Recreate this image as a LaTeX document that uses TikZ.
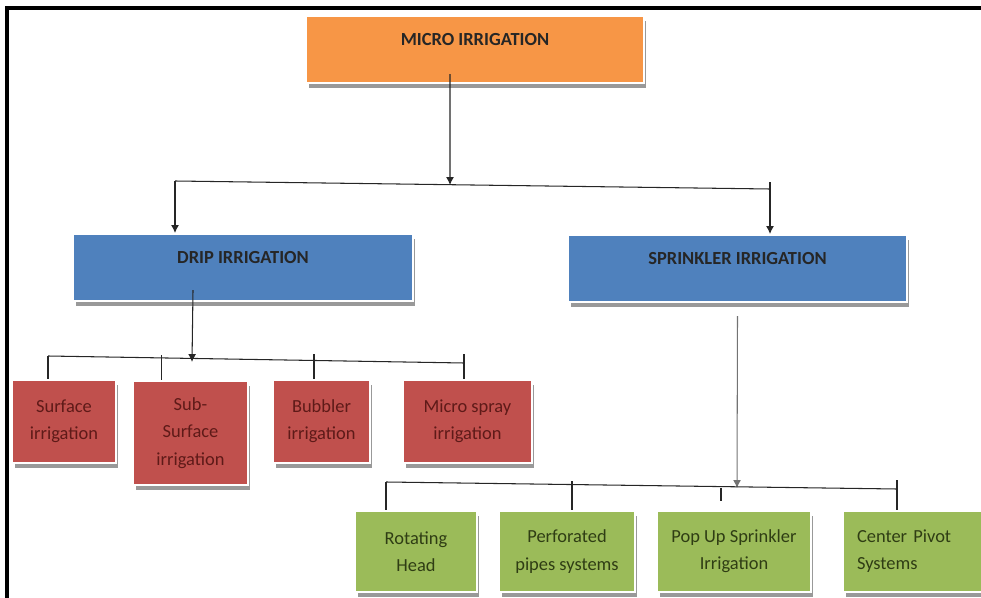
\documentclass[tikz,border=0pt]{standalone}
\usepackage{fontspec}
\setmainfont{Carlito}
\usepackage{tikz}
\usetikzlibrary{arrows.meta}
\usetikzlibrary{shadows}
\definecolor{microorange}{HTML}{F79646}
\definecolor{headblue}{HTML}{4F81BD}
\definecolor{dripred}{HTML}{C0504D}
\definecolor{sprinkgreen}{HTML}{9BBB59}
\definecolor{dripredtext}{HTML}{5E1A18}
\definecolor{sprinkgreentext}{HTML}{2F3D14}
\tikzset{
    box/.style={draw=white, line width=1.2pt, inner sep=0pt,
        drop shadow={shadow xshift=0.05cm, shadow yshift=-0.1cm, fill=black!50, opacity=0.8}},
    headbox/.style={box, font=\bfseries\fontsize{10.5}{12}\selectfont, text=black!85,
        inner ysep=0.34cm, text height=0.24cm, text depth=0.42cm, anchor=north},
    redbox/.style={box, fill=dripred, text=dripredtext, align=center,
        font=\fontsize{10.5}{15.5}\selectfont, minimum height=1.66cm},
    greenbox/.style={box, fill=sprinkgreen, text=sprinkgreentext, align=center,
        font=\fontsize{10.5}{15.5}\selectfont, minimum height=1.62cm},
    conn/.style={black!85, line width=0.6pt},
    tip/.style={-{Latex[length=4.5pt, width=4.5pt]}}
}
\begin{document}
\begin{tikzpicture}[x=0.02cm, y=-0.02cm]
    \useasboundingbox (0,0) rectangle (981,598);
    \draw[line width=1.8pt] (7,598) -- (7,8) -- (981,8);

    \node[headbox, fill=microorange, minimum width=6.76cm] (micro) at (475,15) {MICRO IRRIGATION};
    \node[headbox, fill=headblue, minimum width=6.8cm] (drip) at (243,233) {DRIP IRRIGATION};
    \node[headbox, fill=headblue, minimum width=6.78cm] (sprinkler) at (737.5,234) {SPRINKLER IRRIGATION};

    \node[redbox, minimum width=2.08cm] (surface) at (64,421.5) {Surface\\irrigation};
    \node[redbox, minimum width=2.3cm, minimum height=2.08cm] (subsurface) at (190.5,433) {Sub-\\Surface\\irrigation};
    \node[redbox, minimum width=1.94cm] (bubbler) at (321.5,421.5) {Bubbler\\irrigation};
    \node[redbox, minimum width=2.58cm] (microspray) at (467.5,421.5) {Micro spray\\irrigation};

    \node[greenbox, minimum width=2.44cm] (rotating) at (416,551.5) {Rotating\\Head};
    \node[greenbox, minimum width=2.72cm] (perforated) at (567,551.5) {Perforated\\pipes systems};
    \node[greenbox, minimum width=3.08cm] (popup) at (734,551.5) {Pop Up Sprinkler\\Irrigation};
    \node[greenbox, text width=2.28cm, inner xsep=0.28cm, align=left] (pivot) at (914,551.5) {Center Pivot\\Systems};

    \coordinate (topleft) at (175,181);
    \coordinate (topright) at (770,189);
    \coordinate (topjoin) at (450,185);
    \draw[conn, tip] ([xshift=-0.5cm, yshift=0.2cm]micro.south) -- (topjoin);
    \draw[conn] (topleft) -- (topright);
    \draw[conn, tip] (topleft) -- (topleft |- drip.north);
    \draw[conn, tip] ([yshift=0.14cm]topright) -- (topright |- sprinkler.north);

    \coordinate (dripleft) at (48,356);
    \coordinate (dripright) at (464,363);
    \coordinate (dripjoin) at (192,362);
    \draw[conn, tip] ([xshift=-1cm, yshift=0.24cm]drip.south) -- (dripjoin);
    \draw[conn] (dripleft) -- (dripright);
    \draw[conn] (dripleft) -- (dripleft |- surface.north);
    \foreach \leaf/\dx in {subsurface/-0.58, bubbler/-0.15, microspray/-0.07}
        \draw[conn] ([xshift=\dx cm]\leaf.north) -- ++(0,-25);

    \coordinate (sprinkleft) at (386,482);
    \coordinate (sprinkright) at (897,489);
    \coordinate (sprinkjoin) at (737,488);
    \draw[black!55, line width=0.6pt, tip] ([yshift=-0.26cm]sprinkler.south) -- (sprinkjoin);
    \draw[conn] (sprinkleft) -- (sprinkright);
    \draw[conn] (sprinkleft) -- (sprinkleft |- rotating.north);
    \draw[conn] ([xshift=0.1cm]perforated.north) -- ++(0,-29);
    \draw[conn] ([xshift=-0.26cm, yshift=0.18cm]popup.north) -- ++(0,-13);
    \draw[conn] ([xshift=-0.34cm]pivot.north) -- ++(0,-30);
\end{tikzpicture}
\end{document}
